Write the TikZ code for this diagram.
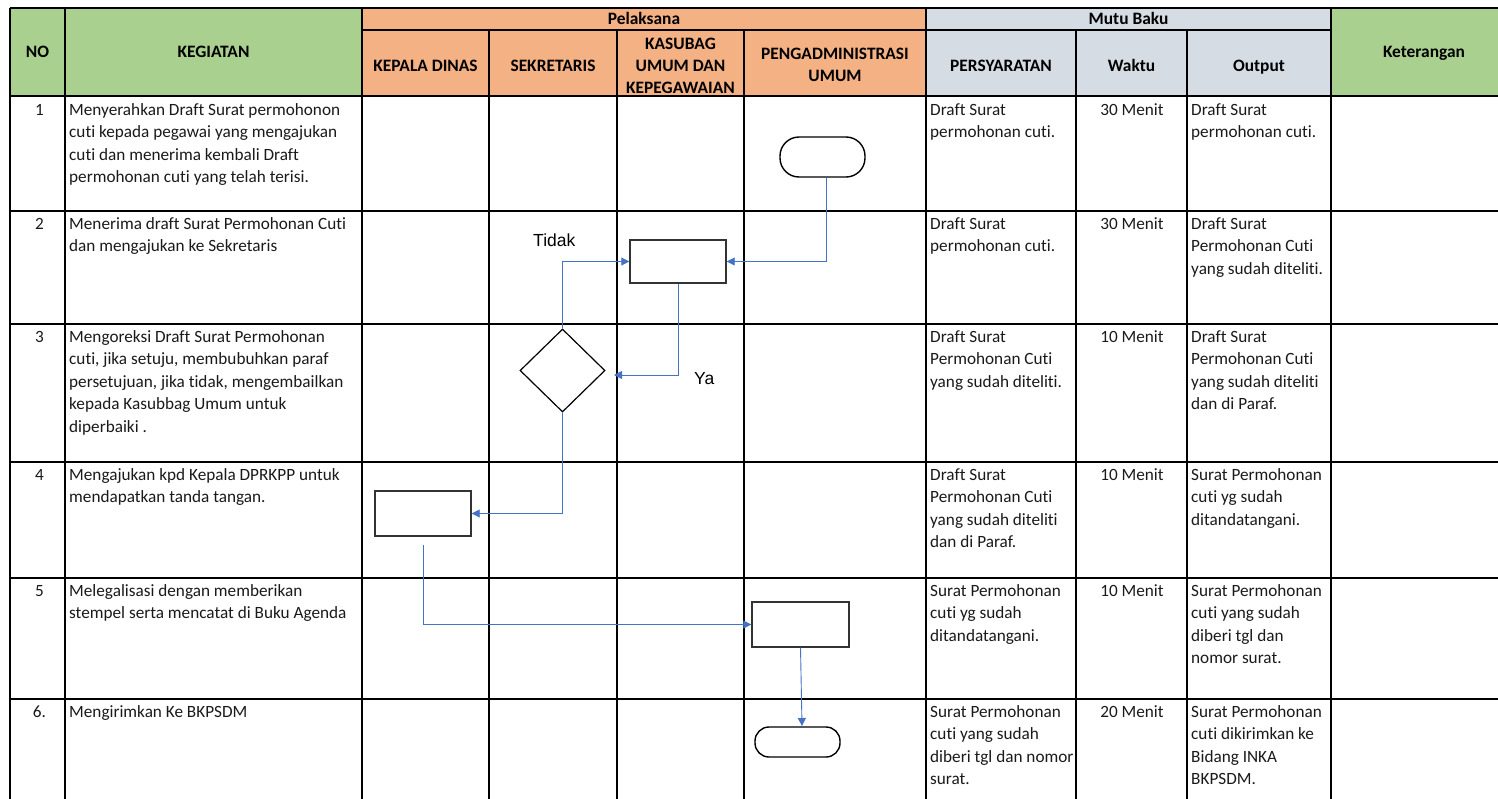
\documentclass[tikz,border=0pt]{standalone}
\usepackage{fontspec}
\setmainfont{Carlito}[Ligatures=NoCommon]
\newfontfamily\arialf{Liberation Sans}
\usetikzlibrary{arrows.meta,shapes.geometric}
\definecolor{hgreen}{HTML}{A9D08E}
\definecolor{horange}{HTML}{F4B183}
\definecolor{hgrey}{HTML}{D6DCE4}
\definecolor{cblue}{HTML}{4472C4}
\definecolor{textc}{HTML}{1A1A1A}
\definecolor{shapec}{HTML}{333333}
\tikzset{
  grid/.style={line width=2pt, draw=black},
  txt/.style={inner sep=0pt, align=left, text=textc, font=\fontsize{17.2}{22.5}\selectfont},
  htxt/.style={inner sep=0pt, text=black, font=\bfseries\fontsize{17.4}{22.3}\selectfont},
  lbl/.style={inner sep=0pt, text=black, font=\arialf\fontsize{17.5}{20}\selectfont},
  proc/.style={draw=shapec, line width=1.4pt, rectangle, inner sep=0pt, fill=white},
  term/.style={draw=black, line width=1.4pt, rectangle, inner sep=0pt, fill=white},
  dec/.style={draw=black, line width=1.2pt, diamond, inner sep=0pt, fill=white},
  conn/.style={draw=cblue, line width=0.9pt, -{Triangle[length=8pt,width=8pt]}}
}
\newcommand\ltext[4]{\node[txt, anchor=north west] (#1) at (#2,#3) {\rule{0pt}{14pt}#4};}
\newcommand\ctext[4]{\node[txt, anchor=north, align=center] (#1) at (#2,#3) {\rule{0pt}{14pt}#4};}
\newcommand\htext[4]{\node[htxt, anchor=base] (#1) at (#2,#3) {#4};}
\begin{document}
\begin{tikzpicture}[x=1pt,y=-1pt]
\useasboundingbox (0,0) rectangle (1498,798);
\clip (0,0) rectangle (1498,798);
\fill[white] (0,0) rectangle (1498,798);
% header fills
\fill[hgreen] (10,8) rectangle (362,96);
\fill[horange] (362,8) rectangle (926,96);
\fill[hgrey] (926,8) rectangle (1331,96);
\fill[hgreen] (1331,8) rectangle (1520,96);
% grid lines
\draw[grid] (10,8) -- (1520,8);
\draw[grid] (362,30) -- (1331,30);
\foreach \yy in {96,211,324,462,578,699} {\draw[grid] (10,\yy) -- (1520,\yy);}
\foreach \xx in {10,65,362,926,1331} {\draw[grid] (\xx,8) -- (\xx,810);}
\foreach \xx in {489,617,744,1076,1187} {\draw[grid] (\xx,30) -- (\xx,810);}
% header texts
\htext{hno}{37.5}{57}{NO}
\htext{hkeg}{213.5}{57}{KEGIATAN}
\htext{hpel}{644}{24.5}{Pelaksana}
\htext{hmutu}{1128.5}{24.5}{Mutu Baku}
\htext{hket}{1424}{57}{Keterangan}
\htext{hkd}{425.5}{71}{KEPALA DINAS}
\htext{hsek}{553}{71}{SEKRETARIS}
\node[htxt, anchor=north, align=center] (hkas) at (680.5,35) {\rule{0pt}{14pt}KASUBAG\\UMUM DAN\\KEPEGAWAIAN};
\node[htxt, anchor=north, align=center] (hpeng) at (835,45) {\rule{0pt}{14pt}PENGADMINISTRASI\\UMUM};
\htext{hpers}{1001}{71}{PERSYARATAN}
\htext{hwak}{1131.5}{71}{Waktu}
\htext{hout}{1259}{71}{Output}
% numbers
\ctext{n1}{39.5}{101}{1}
\ctext{n2}{39.5}{215}{2}
\ctext{n3}{39.5}{328}{3}
\ctext{n4}{39.5}{466}{4}
\ctext{n5}{39.5}{582}{5}
\ctext{n6}{39.5}{703}{6.}
% kegiatan
\ltext{k1}{69}{101}{Menyerahkan Draft Surat permohonon\\cuti kepada pegawai yang mengajukan\\cuti dan menerima kembali Draft\\permohonan cuti yang telah terisi.}
\ltext{k2}{69}{215}{Menerima draft Surat Permohonan Cuti\\dan mengajukan ke Sekretaris}
\ltext{k3}{69}{328}{Mengoreksi Draft Surat Permohonan\\cuti, jika setuju, membubuhkan paraf\\persetujuan, jika tidak, mengembailkan\\kepada Kasubbag Umum untuk\\diperbaiki .}
\ltext{k4}{69}{466}{Mengajukan kpd Kepala DPRKPP untuk\\mendapatkan tanda tangan.}
\ltext{k5}{69}{582}{Melegalisasi dengan memberikan\\stempel serta mencatat di Buku Agenda}
\ltext{k6}{69}{703}{Mengirimkan Ke BKPSDM}
% persyaratan
\ltext{p1}{930}{101}{Draft Surat\\permohonan cuti.}
\ltext{p2}{930}{215}{Draft Surat\\permohonan cuti.}
\ltext{p3}{930}{328}{Draft Surat\\Permohonan Cuti\\yang sudah diteliti.}
\ltext{p4}{930}{466}{Draft Surat\\Permohonan Cuti\\yang sudah diteliti\\dan di Paraf.}
\ltext{p5}{930}{582}{Surat Permohonan\\cuti yg sudah\\ditandatangani.}
\ltext{p6}{930}{703}{Surat Permohonan\\cuti yang sudah\\diberi tgl dan nomor\\surat.}
% waktu
\ctext{w1}{1132}{101}{30 Menit}
\ctext{w2}{1132}{215}{30 Menit}
\ctext{w3}{1132}{328}{10 Menit}
\ctext{w4}{1132}{466}{10 Menit}
\ctext{w5}{1132}{582}{10 Menit}
\ctext{w6}{1132}{703}{20 Menit}
% output
\ltext{o1}{1191}{101}{Draft Surat\\permohonan cuti.}
\ltext{o2}{1191}{215}{Draft Surat\\Permohonan Cuti\\yang sudah diteliti.}
\ltext{o3}{1191}{328}{Draft Surat\\Permohonan Cuti\\yang sudah diteliti\\dan di Paraf.}
\ltext{o4}{1191}{466}{Surat Permohonan\\cuti yg sudah\\ditandatangani.}
\ltext{o5}{1191}{582}{Surat Permohonan\\cuti yang sudah\\diberi tgl dan\\nomor surat.}
\ltext{o6}{1191}{703}{Surat Permohonan\\cuti dikirimkan ke\\Bidang INKA\\BKPSDM.}
% flow shapes
\node[term, rounded corners=19pt, minimum width=85pt, minimum height=40pt] (t1) at (822.5,157) {};
\node[proc, minimum width=96pt, minimum height=43pt] (b2) at (678,261.5) {};
\node[dec, minimum width=85pt, minimum height=83pt] (dia) at (562.5,370.5) {};
\node[proc, minimum width=96pt, minimum height=45pt] (b4) at (423,513.5) {};
\node[proc, minimum width=97pt, minimum height=45pt] (b5) at (800.5,624.5) {};
\node[term, rounded corners=14pt, minimum width=85pt, minimum height=30pt] (t2) at (797.5,742) {};
% labels
\node[lbl, anchor=base west] (ltidak) at (533,246.5) {Tidak};
\node[lbl, anchor=base west] (lya) at (694,384) {Ya};
% connectors
\coordinate (yain) at (614,375);
\coordinate (b4out) at (423,545);
\coordinate (t2in) at (802,726);
\draw[conn] ([xshift=3.5pt]t1.south) |- (b2.east);
\draw[conn] (b2.south) |- (yain);
\draw[conn] (dia.north) |- (b2.west);
\draw[conn] (dia.south) |- (b4.east);
\draw[conn] (b4out) |- (b5.west);
\draw[conn] (b5.south) -- (t2in);
\end{tikzpicture}
\end{document}
